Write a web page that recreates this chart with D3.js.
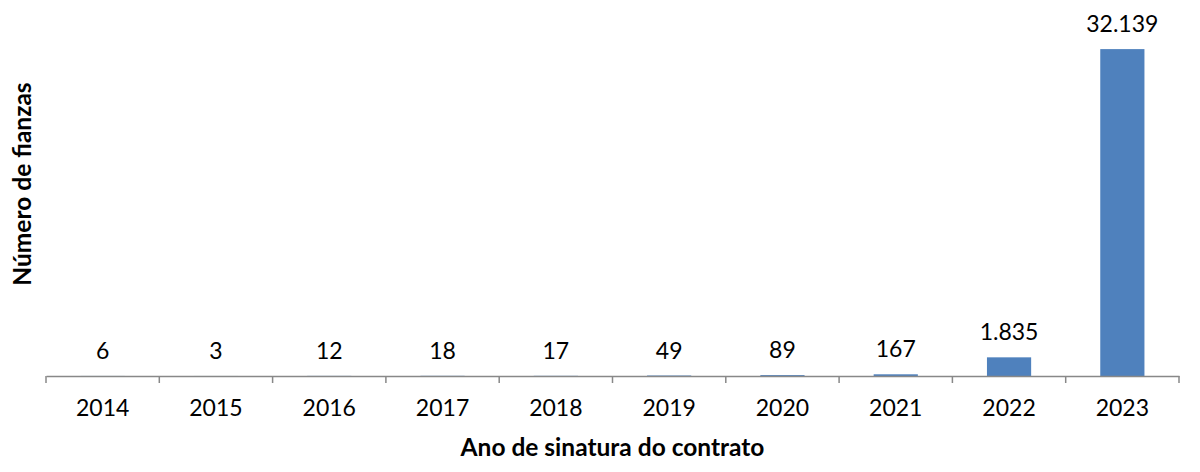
<!DOCTYPE html>
<html>
<head>
<meta charset="utf-8">
<script src="https://cdn.jsdelivr.net/npm/d3@7"></script>
<style>
  body { margin: 0; background: #fff; }
  text { font-family: Lato, "Open Sans", sans-serif; fill: #000; }
</style>
</head>
<body>
<script>
// Data
var years = ["2014", "2015", "2016", "2017", "2018", "2019", "2020", "2021", "2022", "2023"];
var counts = [6, 3, 12, 18, 17, 49, 89, 167, 1835, 32139];
var labels = ["6", "3", "12", "18", "17", "49", "89", "167", "1.835", "32.139"];

var width = 1200, height = 472;
var margin = {top: 20, right: 21, bottom: 96, left: 46};
var innerW = width - margin.left - margin.right,
    innerH = height - margin.top - margin.bottom;

var svg = d3.select("body").append("svg")
  .attr("width", width)
  .attr("height", height);

var g = svg.append("g")
  .attr("transform", "translate(" + margin.left + "," + margin.top + ")");

var x = d3.scaleBand()
  .domain(years)
  .range([0, innerW])
  .paddingInner(0.61)
  .paddingOuter(0.305);

var y = d3.scaleLinear()
  .domain([0, 35000])
  .range([innerH, 0]);

var data = years.map(function(d, i) { return {year: d, value: counts[i], label: labels[i]}; });

// bars
g.selectAll("rect.bar")
  .data(data)
  .enter().append("rect")
  .attr("class", "bar")
  .attr("x", function(d) { return x(d.year); })
  .attr("y", function(d) { return y(d.value); })
  .attr("width", x.bandwidth())
  .attr("height", function(d) { return innerH - y(d.value); })
  .style("fill", "#4F81BD");

// value labels
g.selectAll("text.val")
  .data(data)
  .enter().append("text")
  .attr("class", "val")
  .attr("x", function(d) { return x(d.year) + x.bandwidth() / 2; })
  .attr("y", function(d) { return y(d.value) - 17; })
  .attr("text-anchor", "middle")
  .style("font-size", "23px")
  .text(function(d) { return d.label; });

// x axis (labels only)
var xAxis = g.append("g")
  .attr("transform", "translate(0," + innerH + ")")
  .call(d3.axisBottom(x).tickSize(0).tickPadding(24));
xAxis.select(".domain").attr("stroke", "#888").attr("stroke-width", 1.5);
xAxis.selectAll(".tick text").style("font-size", "23px").style("font-family", "Lato, 'Open Sans', sans-serif").attr("fill", "#000");

// category boundary ticks
var bounds = years.map(function(d) { return x(d) - x.step() * x.paddingInner() / 2; });
bounds.push(innerW);
xAxis.selectAll("line.bound")
  .data(bounds)
  .enter().append("line")
  .attr("class", "bound")
  .attr("x1", function(d) { return d; })
  .attr("x2", function(d) { return d; })
  .attr("y1", 0)
  .attr("y2", 7)
  .attr("stroke", "#888")
  .attr("stroke-width", 1.5);

// axis titles
svg.append("text")
  .attr("x", margin.left + innerW / 2)
  .attr("y", 456)
  .attr("text-anchor", "middle")
  .style("font-size", "24.5px")
  .style("font-weight", "bold")
  .text("Ano de sinatura do contrato");

svg.append("text")
  .attr("transform", "translate(31,184) rotate(-90)")
  .attr("text-anchor", "middle")
  .style("font-size", "24.5px")
  .style("font-weight", "bold")
  .text("Número de fianzas");
</script>
</body>
</html>
